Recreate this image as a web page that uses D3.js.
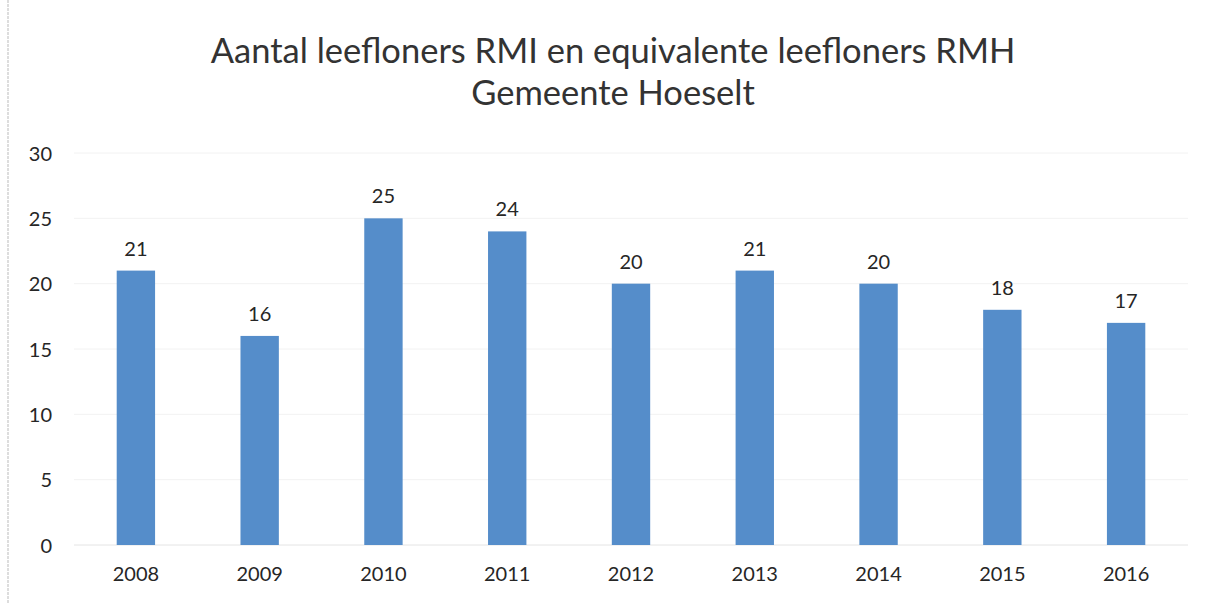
<!DOCTYPE html>
<html>
<head>
<meta charset="utf-8">
<script src="https://cdn.jsdelivr.net/npm/d3@7"></script>
<style>
  body { margin: 0; background: #fff; }
  text { font-family: Lato, "Open Sans", sans-serif; fill: #262626; }
</style>
</head>
<body>
<svg id="chart" width="1213" height="603"></svg>
<script>
// chart data
const years = ['2008', '2009', '2010', '2011', '2012', '2013', '2014', '2015', '2016'];
const counts = [21, 16, 25, 24, 20, 21, 20, 18, 17];
const yTicks = [0, 5, 10, 15, 20, 25, 30];
const titleLines = ['Aantal leefloners RMI en equivalente leefloners RMH', 'Gemeente Hoeselt'];

const data = years.map((y, i) => ({ year: y, count: counts[i] }));

const svg = d3.select('#chart');
const margin = { top: 153, right: 25, bottom: 58, left: 74 };
const width = 1213 - margin.left - margin.right;
const height = 603 - margin.top - margin.bottom;

// faint scan edge on the left
svg.append('line')
  .attr('x1', 8).attr('x2', 8).attr('y1', 0).attr('y2', 603)
  .attr('stroke', '#bbb').attr('stroke-width', 1).attr('stroke-dasharray', '3,1');

svg.append('g')
  .selectAll('text')
  .data(titleLines)
  .enter()
  .append('text')
  .attr('x', 613)
  .attr('y', (d, i) => 63 + i * 42)
  .attr('text-anchor', 'middle')
  .style('font-size', '34.5px')
  .style('fill', '#333')
  .text(d => d);

const g = svg.append('g').attr('transform', `translate(${margin.left},${margin.top})`);

const xScale = d3.scaleBand().domain(years).range([0, width]).paddingInner(0.69).paddingOuter(0.345);
const yScale = d3.scaleLinear().domain([0, 30]).range([height, 0]);

// gridlines
g.append('g')
  .selectAll('line')
  .data(yTicks)
  .enter()
  .append('line')
  .attr('x1', 0).attr('x2', width)
  .attr('y1', d => yScale(d)).attr('y2', d => yScale(d))
  .attr('stroke', d => d === 0 ? '#e4e4e4' : '#f2f2f2');

// y axis labels
const yAxis = g.append('g')
  .call(d3.axisLeft(yScale).tickValues(yTicks).tickSize(0).tickPadding(22));
yAxis.select('.domain').remove();
yAxis.selectAll('text').style('font-size', '20px').attr('dy', '0.35em');

// x axis labels
const xAxis = g.append('g')
  .attr('transform', `translate(0,${height})`)
  .call(d3.axisBottom(xScale).tickSize(0).tickPadding(22));
xAxis.select('.domain').remove();
xAxis.selectAll('text').style('font-size', '20px');

// bars
g.selectAll('.bar')
  .data(data)
  .enter()
  .append('rect')
  .attr('class', 'bar')
  .attr('x', d => xScale(d.year))
  .attr('y', d => yScale(d.count))
  .attr('width', xScale.bandwidth())
  .attr('height', d => height - yScale(d.count))
  .attr('fill', '#558dca');

// value labels
g.selectAll('.value')
  .data(data)
  .enter()
  .append('text')
  .attr('class', 'value')
  .attr('x', d => xScale(d.year) + xScale.bandwidth() / 2)
  .attr('y', d => yScale(d.count) - 15)
  .attr('text-anchor', 'middle')
  .style('font-size', '20px')
  .text(d => d.count);
</script>
</body>
</html>
